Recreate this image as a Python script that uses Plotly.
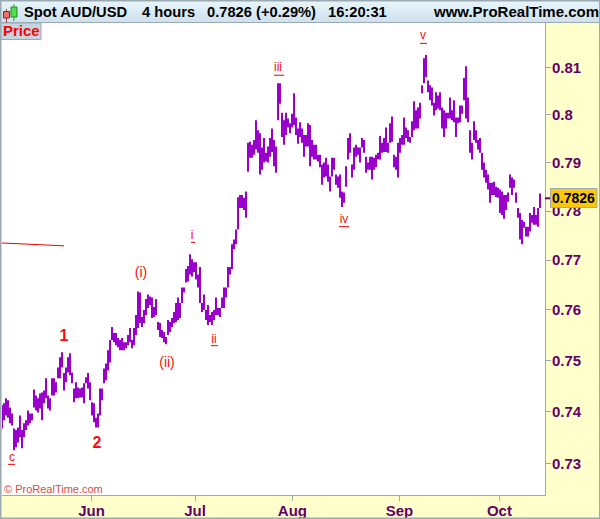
import math
import plotly.graph_objects as go

# highs and lows of the price bars, left to right
highs = [
    .7412, .7416, .7426, .7422, .7408, .7396, .7367, .7364, .7369, .7392,
    .7364, .7377, .7383, .7402, .7396, .7396, .7443, .7431, .7426, .7435,
    .7437, .7441, .7465, .7431, .7426, .7465, .7465, .7457, .7486, .7506,
    .7516, .7475, .7486, .7506, .7514, .7476, .7445, .7457, .7447, .7445,
    .7447, .7455, .7467, .7475, .7457, .7418, .7416, .7388, .7396, .7445,
    .7445, .7484, .7494, .7520, .7540, .7566, .7554, .7554, .7544, .7540,
    .7544, .7536, .7536, .7550, .7564, .7540, .7564, .7590, .7637, .7635,
    .7586, .7600, .7622, .7631, .7627, .7625, .7606, .7622, .7576, .7574,
    .7560, .7556, .7546, .7580, .7576, .7584, .7596, .7614, .7625, .7614,
    .7645, .7645, .7682, .7688, .7712, .7702, .7696, .7696, .7671, .7686,
    .7614, .7631, .7600, .7610, .7590, .7596, .7600, .7625, .7604, .7604,
    .7625, .7645, .7645, .7686, .7686, .7732, .7742, .7762, .7828, .7833,
    .7833, .7827, .7840, .7941, .7943, .7937, .7947, .7988, .7967, .7961,
    .7931, .7951, .7920, .7933, .7951, .7971, .7947, .7933, .8066, .8066,
    .8004, .7988, .8004, .7992, .7982, .8002, .8045, .7994, .7971, .7984,
    .7971, .7957, .7957, .7982, .7978, .7947, .7937, .7937, .7916, .7916,
    .7896, .7900, .7910, .7896, .7871, .7910, .7910, .7875, .7871, .7875,
    .7840, .7838, .7892, .7951, .7961, .7896, .7931, .7937, .7931, .7931,
    .7951, .7947, .7912, .7900, .7912, .7912, .7910, .7916, .7920, .7955,
    .7941, .7951, .7973, .7941, .7982, .7996, .7916, .7912, .7941, .7951,
    .7957, .7994, .7973, .7967, .7953, .7986, .8028, .8009, .8015, .8025,
    .8062, .8119, .8126, .8072, .8062, .8057, .8025, .8047, .8040, .8047,
    .8015, .8009, .8004, .8004, .8036, .8009, .8030, .7994, .7994, .8019,
    .8019, .8077, .8102, .8036, .7967, .7941, .7986, .7967, .7947, .7951,
    .7920, .7900, .7885, .7875, .7858, .7858, .7860, .7850, .7848, .7844,
    .7840, .7833, .7833, .7838, .7875, .7869, .7865, .7838, .7806, .7796,
    .7782, .7778, .7768, .7768, .7796, .7792, .7808, .7792, .7806, .7836,
]
lows = [
    .7367, .7383, .7392, .7388, .7377, .7373, .7325, .7331, .7340, .7350,
    .7329, .7350, .7364, .7373, .7377, .7383, .7408, .7402, .7398, .7406,
    .7383, .7416, .7426, .7406, .7402, .7431, .7431, .7437, .7465, .7465,
    .7486, .7441, .7457, .7476, .7471, .7455, .7418, .7426, .7426, .7427,
    .7427, .7416, .7455, .7445, .7422, .7392, .7379, .7369, .7369, .7392,
    .7422, .7455, .7461, .7480, .7496, .7540, .7536, .7530, .7526, .7520,
    .7520, .7520, .7524, .7530, .7536, .7524, .7530, .7550, .7564, .7574,
    .7566, .7574, .7590, .7604, .7610, .7584, .7586, .7590, .7560, .7546,
    .7544, .7536, .7532, .7550, .7556, .7566, .7574, .7576, .7580, .7584,
    .7614, .7635, .7655, .7657, .7671, .7667, .7676, .7661, .7645, .7614,
    .7596, .7600, .7580, .7570, .7576, .7570, .7580, .7590, .7590, .7586,
    .7604, .7604, .7625, .7645, .7671, .7682, .7722, .7732, .7762, .7806,
    .7806, .7802, .7786, .7881, .7910, .7910, .7916, .7927, .7920, .7875,
    .7885, .7900, .7902, .7900, .7912, .7922, .7892, .7879, .7988, .8023,
    .7953, .7937, .7957, .7973, .7961, .7973, .7978, .7957, .7939, .7953,
    .7941, .7912, .7933, .7933, .7892, .7912, .7906, .7906, .7902, .7890,
    .7854, .7869, .7871, .7860, .7840, .7871, .7885, .7854, .7848, .7827,
    .7808, .7817, .7850, .7906, .7920, .7869, .7885, .7912, .7916, .7900,
    .7931, .7920, .7879, .7885, .7885, .7865, .7885, .7890, .7906, .7906,
    .7920, .7922, .7922, .7920, .7941, .7943, .7890, .7885, .7869, .7920,
    .7937, .7937, .7951, .7943, .7941, .7953, .7967, .7971, .7971, .7992,
    .8045, .8066, .8079, .8047, .8030, .8019, .7998, .8009, .8013, .8009,
    .7971, .7953, .7971, .7992, .7992, .7988, .7984, .7953, .7982, .7984,
    .8002, .8030, .7992, .7984, .7920, .7906, .7947, .7941, .7927, .7920,
    .7885, .7869, .7858, .7844, .7817, .7833, .7833, .7829, .7827, .7796,
    .7792, .7784, .7802, .7819, .7848, .7833, .7848, .7817, .7786, .7742,
    .7732, .7766, .7748, .7748, .7758, .7776, .7772, .7772, .7768, .7806,
]
last_price = 0.7826

price_ticks = [0.81, 0.8, 0.79, 0.78, 0.77, 0.76, 0.75, 0.74, 0.73]
price_labels = ["0.81", "0.8", "0.79", "0.78", "0.77", "0.76", "0.75", "0.74", "0.73"]
month_ticks = [44.8, 96.5, 145.2, 198.7, 248.7]
month_labels = ["Jun", "Jul", "Aug", "Sep", "Oct"]

# Elliott wave labels
wave_text = ["c", "1", "2", "(i)", "(ii)", "i", "ii", "iii", "iv", "v"]
wave_bar = [5, 31, 47.5, 69.5, 82.5, 95, 106, 138, 171, 210.5]
wave_price = [.7310, .7546, .7338, .7674, .7494, .7750, .7541, .8098, .7782, .8166]
wave_size = [12, 16, 16, 14, 14, 12, 12, 12, 12, 12]
wave_weight = [400, 700, 700, 400, 400, 400, 400, 400, 400, 400]

# little rules under the small labels
rule_bar = [3, 6.5, None, 94.5, 96.5, None, 104.5, 108, None, 136, 141, None, 168.5, 173.5, None, 209, 212.5]
rule_price = [.7298, .7298, None, .7736, .7736, None, .7529, .7529, None, .8083, .8083, None, .7768, .7768, None, .8151, .8151]

trend_bar = [-1, 31]
trend_price = [.7735, .7729]

W, H = 600, 519
LEFT, RIGHT, TOP, BOTTOM = 2, 545, 22, 495
PURPLE = "#660066"
GRAY = "#9aa9b2"
BAR_COLOR = "#9900cc"
FONT = "Liberation Sans"


def px(x):
    return (x - LEFT) / (RIGHT - LEFT)


def py(y):
    return (BOTTOM - y) / (BOTTOM - TOP)


def rect(x0, y0, x1, y1, fill, line=None):
    return dict(type="rect", xref="paper", yref="paper", x0=px(x0), x1=px(x1), y0=py(y0), y1=py(y1),
                fillcolor=fill, line=dict(color=line, width=1) if line else dict(width=0), layer="above")


def label(x, y, text, size=14.7, color="black", anchor="left", weight=700):
    return dict(xref="paper", yref="paper", x=px(x), y=py(y), text=text, showarrow=False, xanchor=anchor,
                yanchor="middle", font=dict(family=FONT, size=size, color=color, weight=weight), borderpad=0)


bar_x, bar_y = [], []
for i, (hi, lo) in enumerate(zip(highs, lows)):
    bar_x += [i, i, None]
    bar_y += [lo, hi, None]

fig = go.Figure()
fig.add_trace(go.Scatter(x=bar_x, y=bar_y, mode="lines", line=dict(color=BAR_COLOR, width=2), hoverinfo="skip"))
fig.add_trace(go.Scatter(x=trend_bar, y=trend_price, mode="lines", line=dict(color="#ee0000", width=1), hoverinfo="skip"))
fig.add_trace(go.Scatter(x=rule_bar, y=rule_price, mode="lines", line=dict(color="#ee0000", width=1), hoverinfo="skip"))
fig.add_trace(go.Scatter(
    x=wave_bar, y=wave_price, text=wave_text, mode="text", hoverinfo="skip",
    textfont=dict(family=FONT, size=wave_size, color="#f01010", weight=wave_weight),
))

shapes = []
# header band, drawn as thin strips for the gradient
for j in range(21):
    t = j / 20
    c = (int(232 - 26 * t), int(245 - 20 * t), int(251 - 14 * t))
    shapes.append(rect(0, 1 + j, W, 2 + j, "rgb(%d,%d,%d)" % c))
shapes.append(rect(0, 22, W, 23, GRAY))
# outer frame
shapes.append(rect(0, 0, W, 1.5, GRAY))
shapes.append(rect(0, 0, 1.5, H, GRAY))
shapes.append(rect(W - 1, 0, W, H, GRAY))
shapes.append(rect(0, H - 1.5, W, H, GRAY))
# candle icon
shapes.append(rect(6, 9, 6.8, 23, "#7a1a1a"))
shapes.append(rect(13.5, 4, 14.3, 21, "#1a7a1a"))
shapes.append(rect(3.5, 11.5, 9.5, 18, "#f07070", "#8a2020"))
shapes.append(rect(11, 7, 17, 17, "#50e050", "#208a20"))
# Price tab
shapes.append(rect(1, 23, 41, 39.5, "#c4d6df", GRAY))
# last price tag
shapes.append(dict(type="line", xref="paper", yref="paper", x0=px(545), x1=px(550), y0=py(198.3), y1=py(198.3),
                   line=dict(color=PURPLE, width=2), layer="above"))
shapes.append(rect(550.5, 188.5, 597, 207.5, "#fdc80c", GRAY))

annotations = [
    label(23, 12, "Spot AUD/USD"),
    label(141, 12, "4 hours"),
    label(206, 12, "0.7826 (+0.29%)"),
    label(327, 12, "16:20:31"),
    label(432, 12, "www.ProRealTime.com", size=15),
    label(21, 31, "Price", size=15, color="#ff0000", anchor="center"),
    label(573.7, 198, "%.4f" % last_price, size=14, anchor="center"),
    label(3, 489, "© ProRealTime.com", size=11, color="#e04848", weight=400),
]

fig.update_layout(
    width=W,
    height=H,
    margin=dict(l=LEFT, r=W - RIGHT, t=TOP, b=H - BOTTOM),
    paper_bgcolor="#ffffcc",
    plot_bgcolor="white",
    showlegend=False,
    shapes=shapes,
    annotations=annotations,
    xaxis=dict(
        range=[0, 271.5], tickmode="array", tickvals=month_ticks, ticktext=month_labels, showgrid=False,
        zeroline=False, ticks="outside", ticklen=5, tickcolor=GRAY, showline=True, linecolor=GRAY, linewidth=1,
        automargin=False, ticklabelstandoff=-3, tickfont=dict(family=FONT, size=15, color=PURPLE, weight=700),
    ),
    yaxis=dict(
        type="log", side="right", range=[math.log10(0.72395), math.log10(0.81969)], tickmode="array",
        tickvals=price_ticks, ticktext=price_labels, showgrid=False, zeroline=False, ticks="outside", ticklen=5,
        tickcolor=GRAY, showline=True, linecolor=GRAY, linewidth=1,
        automargin=False, ticklabelstandoff=-2, tickfont=dict(family=FONT, size=15, color=PURPLE, weight=700),
    ),
)

fig.write_html("out.html", post_script="document.body.style.margin='0';document.body.style.overflow='hidden';",
               config=dict(displayModeBar=False))
